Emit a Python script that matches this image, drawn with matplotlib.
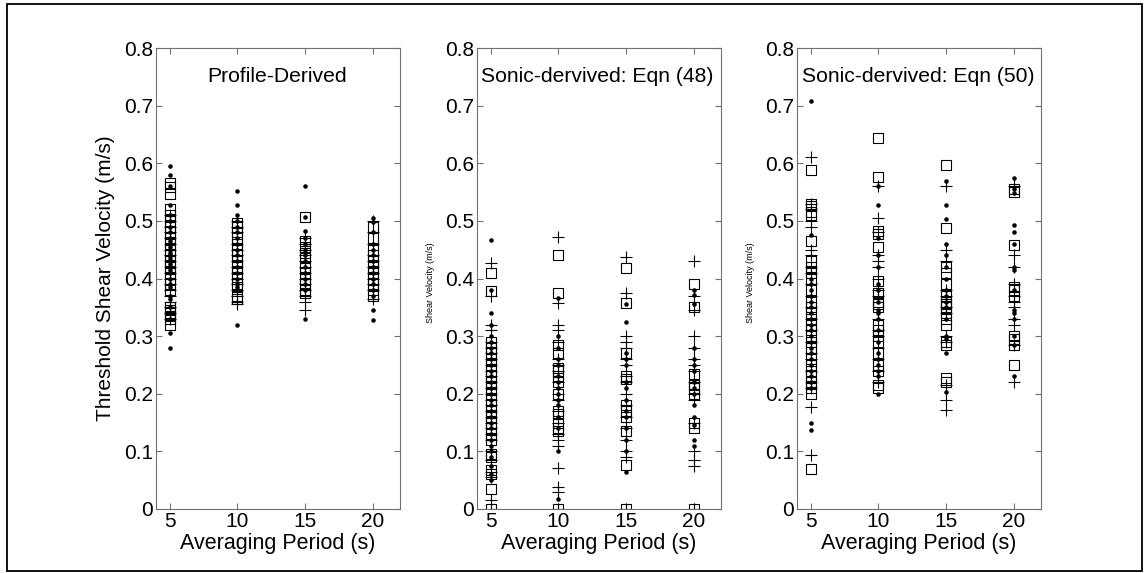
import numpy as np
import matplotlib.pyplot as plt
from matplotlib.patches import Rectangle

plt.rcParams['font.family'] = ['Liberation Sans', 'DejaVu Sans']

## averaging periods (s)
periods = [5, 10, 15, 20]

## panel 1: profile-derived
p1_dots = [
	[0.595, 0.58, 0.56, 0.527, 0.51, 0.50, 0.49, 0.48, 0.47, 0.465, 0.46, 0.455, 0.45, 0.445, 0.44, 0.435,
	 0.43, 0.425, 0.42, 0.415, 0.41, 0.40, 0.39, 0.385, 0.37, 0.365, 0.35, 0.34, 0.33, 0.305, 0.28],
	[0.552, 0.527, 0.51, 0.50, 0.49, 0.48, 0.47, 0.46, 0.45, 0.44, 0.43, 0.42, 0.41, 0.40, 0.39, 0.385, 0.32],
	[0.56, 0.507, 0.483, 0.47, 0.46, 0.45, 0.44, 0.43, 0.42, 0.41, 0.40, 0.39, 0.38, 0.33],
	[0.505, 0.498, 0.48, 0.46, 0.45, 0.44, 0.43, 0.42, 0.41, 0.40, 0.39, 0.38, 0.37, 0.345, 0.328],
]
p1_plus = [
	[0.51, 0.50, 0.49, 0.48, 0.47, 0.46, 0.45, 0.44, 0.43, 0.42, 0.41, 0.40, 0.39, 0.38, 0.37, 0.36, 0.35, 0.34, 0.33],
	[0.50, 0.49, 0.48, 0.46, 0.45, 0.44, 0.43, 0.42, 0.41, 0.40, 0.39, 0.38, 0.37, 0.36, 0.355],
	[0.47, 0.46, 0.45, 0.44, 0.43, 0.42, 0.41, 0.40, 0.39, 0.38, 0.37, 0.36, 0.345],
	[0.50, 0.48, 0.46, 0.44, 0.43, 0.42, 0.41, 0.40, 0.39, 0.38, 0.365],
]
p1_sq = [
	[0.565, 0.558, 0.547, 0.52, 0.51, 0.50, 0.49, 0.48, 0.47, 0.46, 0.45, 0.44, 0.43, 0.42, 0.41, 0.40,
	 0.39, 0.38, 0.35, 0.345, 0.34, 0.335, 0.33, 0.32],
	[0.497, 0.49, 0.48, 0.47, 0.46, 0.45, 0.44, 0.43, 0.42, 0.41, 0.40, 0.39, 0.385, 0.37, 0.365],
	[0.507, 0.465, 0.455, 0.445, 0.435, 0.42, 0.41, 0.40, 0.39, 0.38, 0.375],
	[0.49, 0.47, 0.45, 0.44, 0.43, 0.42, 0.41, 0.40, 0.39, 0.38, 0.37],
]

## panel 2: sonic-derived, eqn (48)
p2_dots = [
	[0.467, 0.38, 0.34, 0.32, 0.30, 0.29, 0.28, 0.27, 0.26, 0.25, 0.24, 0.23, 0.22, 0.21, 0.20, 0.19, 0.18,
	 0.17, 0.16, 0.15, 0.14, 0.13, 0.12, 0.11, 0.10, 0.09, 0.075, 0.06, 0.05],
	[0.367, 0.30, 0.28, 0.26, 0.25, 0.23, 0.22, 0.21, 0.20, 0.19, 0.18, 0.16, 0.14, 0.10, 0.018],
	[0.355, 0.325, 0.27, 0.26, 0.25, 0.22, 0.21, 0.19, 0.17, 0.16, 0.14, 0.12, 0.10, 0.065],
	[0.38, 0.372, 0.355, 0.28, 0.26, 0.25, 0.24, 0.22, 0.21, 0.20, 0.18, 0.16, 0.145, 0.12, 0.11],
]
p2_plus = [
	[0.427, 0.37, 0.32, 0.31, 0.29, 0.28, 0.27, 0.26, 0.25, 0.24, 0.23, 0.22, 0.21, 0.20, 0.19, 0.18, 0.17,
	 0.16, 0.15, 0.14, 0.13, 0.12, 0.10, 0.085, 0.065, 0.055, 0.015, 0.0],
	[0.472, 0.358, 0.32, 0.31, 0.29, 0.26, 0.25, 0.24, 0.22, 0.20, 0.19, 0.17, 0.15, 0.13, 0.12, 0.11,
	 0.072, 0.038, 0.03, 0.0],
	[0.437, 0.375, 0.30, 0.29, 0.28, 0.26, 0.25, 0.23, 0.22, 0.20, 0.18, 0.16, 0.14, 0.12, 0.10, 0.09, 0.0],
	[0.43, 0.37, 0.345, 0.30, 0.28, 0.26, 0.25, 0.24, 0.22, 0.20, 0.19, 0.15, 0.10, 0.085, 0.075, 0.0],
]
p2_sq = [
	[0.41, 0.378, 0.29, 0.28, 0.27, 0.26, 0.25, 0.24, 0.23, 0.22, 0.21, 0.20, 0.19, 0.18, 0.17, 0.16,
	 0.15, 0.14, 0.13, 0.12, 0.095, 0.09, 0.068, 0.06, 0.035, 0.0],
	[0.44, 0.375, 0.285, 0.27, 0.245, 0.24, 0.23, 0.22, 0.20, 0.17, 0.165, 0.15, 0.14, 0.135, 0.0],
	[0.418, 0.357, 0.27, 0.23, 0.225, 0.18, 0.17, 0.16, 0.135, 0.077, 0.0],
	[0.39, 0.35, 0.235, 0.215, 0.21, 0.20, 0.15, 0.14, 0.0],
]

## panel 3: sonic-derived, eqn (50)
p3_dots = [
	[0.708, 0.475, 0.40, 0.39, 0.38, 0.37, 0.36, 0.35, 0.34, 0.33, 0.32, 0.31, 0.30, 0.29, 0.28, 0.27,
	 0.26, 0.25, 0.24, 0.23, 0.22, 0.21, 0.15, 0.137],
	[0.56, 0.528, 0.47, 0.44, 0.42, 0.39, 0.38, 0.36, 0.345, 0.34, 0.33, 0.31, 0.29, 0.27, 0.26, 0.25,
	 0.24, 0.23, 0.199],
	[0.57, 0.528, 0.503, 0.46, 0.44, 0.42, 0.40, 0.38, 0.37, 0.36, 0.35, 0.33, 0.30, 0.295, 0.27, 0.203],
	[0.575, 0.555, 0.548, 0.492, 0.48, 0.46, 0.42, 0.415, 0.38, 0.345, 0.34, 0.33, 0.30, 0.285, 0.23],
]
p3_plus = [
	[0.61, 0.53, 0.52, 0.50, 0.49, 0.45, 0.44, 0.42, 0.41, 0.39, 0.37, 0.35, 0.33, 0.31, 0.29, 0.27,
	 0.26, 0.24, 0.22, 0.21, 0.177, 0.094],
	[0.56, 0.505, 0.48, 0.44, 0.43, 0.42, 0.40, 0.38, 0.37, 0.33, 0.31, 0.30, 0.28, 0.26, 0.24, 0.22],
	[0.56, 0.45, 0.43, 0.38, 0.37, 0.35, 0.34, 0.30, 0.29, 0.215, 0.19, 0.172],
	[0.56, 0.44, 0.42, 0.39, 0.37, 0.36, 0.35, 0.33, 0.32, 0.285, 0.22],
]
p3_sq = [
	[0.588, 0.53, 0.525, 0.515, 0.51, 0.465, 0.43, 0.42, 0.41, 0.40, 0.38, 0.36, 0.35, 0.34, 0.33, 0.32,
	 0.31, 0.30, 0.29, 0.28, 0.26, 0.25, 0.24, 0.23, 0.22, 0.21, 0.20, 0.07],
	[0.643, 0.577, 0.482, 0.478, 0.455, 0.395, 0.375, 0.36, 0.355, 0.35, 0.32, 0.31, 0.30, 0.29, 0.27,
	 0.25, 0.24, 0.215, 0.21],
	[0.597, 0.487, 0.42, 0.41, 0.39, 0.37, 0.36, 0.355, 0.35, 0.34, 0.33, 0.32, 0.29, 0.285, 0.227, 0.22],
	[0.555, 0.55, 0.458, 0.385, 0.38, 0.37, 0.30, 0.295, 0.285, 0.25],
]

panels = [
	('Profile-Derived', p1_dots, p1_plus, p1_sq, 7.75),
	('Sonic-dervived: Eqn (48)', p2_dots, p2_plus, p2_sq, 4.3),
	('Sonic-dervived: Eqn (50)', p3_dots, p3_plus, p3_sq, 4.35),
]

fig = plt.figure(figsize=(11.44, 5.73), dpi=100)
fig.patches.append(Rectangle((7 / 1144, 2 / 573), 1135 / 1144, 567 / 573, transform=fig.transFigure,
	fill=False, edgecolor='black', linewidth=1.3))

lefts = [156, 477, 797]
axcol = '#707070'
for i, (title, dots, plus, sq, tx) in enumerate(panels):
	ax = fig.add_axes([lefts[i] / 1144, 64 / 573, 244 / 1144, 461 / 573])
	for j, p in enumerate(periods):
		ax.plot([p] * len(sq[j]), sq[j], 's', mfc='none', mec='black', ms=6.5, mew=0.8)
		ax.plot([p] * len(plus[j]), plus[j], '+', color='black', ms=8, mew=0.8)
		ax.plot([p] * len(dots[j]), dots[j], '.', color='black', ms=4.5)
	ax.set_xlim(4, 22)
	ax.set_ylim(0, 0.8)
	ax.set_xticks(periods)
	ax.set_yticks(np.arange(0, 0.81, 0.1))
	ax.set_yticklabels(['0'] + ['%.1f' % v for v in np.arange(0.1, 0.81, 0.1)])
	ax.tick_params(direction='in', top=True, right=True, length=4, color=axcol, labelsize=15, pad=2)
	for s in ax.spines.values():
		s.set_color(axcol)
	ax.text(tx, 0.75, title, fontsize=15.2, va='center')
	ax.set_xlabel('Averaging Period (s)', fontsize=15.5)
	ax.xaxis.set_label_coords(0.5, -0.052)
	if i == 0:
		ax.set_ylabel('Threshold Shear Velocity (m/s)', fontsize=15)
		ax.yaxis.set_label_coords(-0.168, 0.5)
	else:
		ax.set_ylabel('Shear Velocity (m/s)', fontsize=6.5)
		ax.yaxis.set_label_coords(-0.172, 0.49)

plt.savefig('out.png', dpi=100)
